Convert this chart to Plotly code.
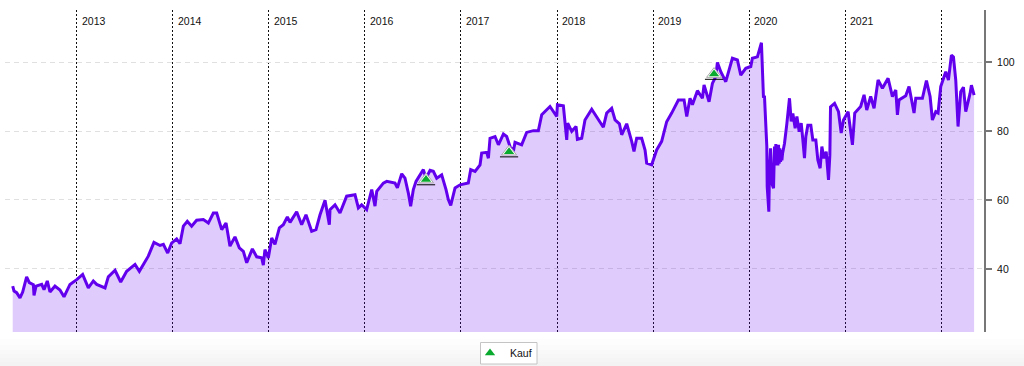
import plotly.graph_objects as go

years = [2013, 2014, 2015, 2016, 2017, 2018, 2019, 2020, 2021, 2022]
year_labels = ["2013", "2014", "2015", "2016", "2017", "2018", "2019", "2020", "2021"]
price_ticks = [40, 60, 80, 100]

time_2012_15 = [2012.336,2012.350,2012.377,2012.412,2012.440,2012.481,2012.509,2012.551,2012.558,2012.579,2012.638,2012.662,2012.696,2012.724,2012.776,2012.828,2012.870,2012.932,
2013.002,2013.064,2013.123,2013.175,2013.210,2013.297,2013.331,2013.401,2013.460,2013.522,2013.609,2013.654,2013.747,2013.806,2013.869,2013.904,2013.949,2013.990,
2014.042,2014.077,2014.112,2014.153,2014.198,2014.250,2014.320,2014.372,2014.424,2014.459,2014.511,2014.556,2014.597,2014.649,2014.694,2014.736,2014.771,2014.830,2014.875,2014.927,2014.944,2014.961,2014.996,
2015.031,2015.065,2015.111,2015.152,2015.194,2015.222,2015.291,2015.343,2015.388,2015.447,2015.492,2015.534,2015.586,2015.631,2015.638,2015.690,2015.742,2015.811,2015.898,2015.933,2015.967]
price_2012_15 = [35.0,33.6,33.1,31.6,33.3,37.7,36.0,35.4,32.3,35.0,35.5,34.0,36.5,33.3,35.0,33.9,31.9,35.5,
36.9,38.4,34.5,36.5,35.5,34.5,37.7,39.6,36.2,39.3,41.3,39.3,43.7,47.7,46.8,47.1,44.6,47.5,
48.7,47.3,52.4,53.8,52.4,54.1,54.3,53.3,56.2,56.2,51.4,53.3,46.6,49.3,46.1,45.1,41.8,45.8,43.5,43.2,41.1,45.6,43.2,
49.0,47.1,51.9,52.8,55.1,53.5,56.6,52.8,55.7,50.9,51.4,55.7,59.9,52.8,57.2,58.6,56.2,61.1,61.5,57.7,58.6]

time_2016_19 = [2016.019,2016.072,2016.106,2016.124,2016.193,2016.228,2016.314,2016.339,2016.384,2016.418,2016.453,2016.477,2016.505,2016.533,2016.609,2016.637,2016.679,2016.713,2016.748,2016.800,2016.845,2016.869,2016.894,2016.939,2016.991,
2017.077,2017.102,2017.147,2017.199,2017.216,2017.268,2017.286,2017.303,2017.355,2017.390,2017.442,2017.476,2017.511,2017.546,2017.563,2017.632,2017.684,2017.754,2017.806,2017.841,2017.927,2017.997,
2018.004,2018.066,2018.101,2018.111,2018.153,2018.198,2018.212,2018.257,2018.291,2018.361,2018.413,2018.482,2018.517,2018.569,2018.604,2018.649,2018.673,2018.725,2018.777,2018.801,2018.829,2018.881,2018.916,2018.933,2018.985,
2019.037,2019.089,2019.141,2019.193,2019.263,2019.322,2019.350,2019.384,2019.409,2019.461,2019.513,2019.530,2019.582,2019.617,2019.652,2019.669,2019.704,2019.756,2019.808,2019.825,2019.877,2019.912,2019.964]
price_2016_19 = [57.2,63.0,58.2,62.5,64.9,65.4,64.9,63.5,67.6,66.3,62.0,58.2,63.0,65.4,68.8,66.3,68.6,68.3,66.3,67.3,63.0,60.1,58.4,63.5,64.4,
64.9,68.8,68.3,70.2,73.6,73.8,72.1,77.9,78.4,76.0,79.1,78.4,75.5,74.1,76.7,76.0,79.6,80.1,80.1,84.7,87.1,84.2,
87.6,87.3,77.4,82.3,79.9,81.3,77.6,77.9,83.2,86.3,84.2,81.1,85.2,86.6,83.2,82.1,78.9,82.1,77.0,74.1,77.9,77.9,74.5,70.7,70.2,
74.5,77.0,82.7,85.2,89.0,89.0,84.2,89.5,87.6,91.7,89.5,93.4,88.5,93.8,95.8,99.9,97.2,94.3,99.1,101.1,100.6,96.2,98.2]

time_2020_22 = [2020.016,2020.033,2020.085,2020.127,2020.141,2020.148,2020.159,2020.173,2020.183,2020.187,2020.204,2020.211,2020.222,2020.235,2020.253,2020.263,2020.270,2020.277,2020.284,2020.291,2020.298,2020.305,2020.312,2020.319,2020.326,2020.333,2020.340,2020.347,2020.367,2020.392,2020.419,2020.437,2020.454,2020.478,2020.496,2020.520,2020.541,2020.558,2020.575,2020.589,2020.610,2020.641,2020.662,2020.693,2020.714,2020.738,2020.756,2020.777,2020.801,2020.825,2020.839,2020.846,2020.888,2020.929,2020.957,2020.981,
2021.029,2021.074,2021.098,2021.160,2021.195,2021.223,2021.264,2021.299,2021.341,2021.386,2021.445,2021.490,2021.525,2021.542,2021.559,2021.629,2021.663,2021.715,2021.733,2021.802,2021.844,2021.882,2021.906,2021.941,2021.965,2021.993,
2022.045,2022.073,2022.104,2022.125,2022.149,2022.173,2022.201,2022.229,2022.253,2022.298,2022.312,2022.340]
price_2020_22 = [98.7,101.1,101.5,105.6,94.8,90.0,89.9,83.2,75.5,63.9,56.6,68.7,75.0,64.8,63.4,75.5,70.3,76.2,70.0,75.5,70.0,76.0,70.5,75.0,71.0,74.5,71.5,73.5,76.4,82.2,89.5,82.8,85.1,80.8,84.2,79.8,82.3,77.4,72.1,78.4,81.7,81.7,77.4,77.4,71.6,69.2,75.5,72.1,74.0,65.8,73.0,87.0,88.0,85.6,79.4,83.2,
85.6,76.0,85.2,87.1,90.5,86.1,90.0,86.6,94.8,92.4,95.3,90.0,91.9,84.7,89.0,90.2,92.9,85.2,89.5,89.5,94.6,90.0,83.2,85.6,85.2,92.9,
97.2,94.8,102.0,101.5,94.8,81.3,91.4,92.7,85.6,90.9,93.3,90.4]

buy_time = [2016.637, 2017.501, 2019.634]
buy_price = [65.9, 74.0, 96.5]

time_all = time_2012_15 + time_2016_19 + time_2020_22
price_all = price_2012_15 + price_2016_19 + price_2020_22

LINE = "#6200ee"
fig = go.Figure()
fig.add_trace(go.Scatter(x=time_all, y=price_all, mode="lines", fill="tozeroy",
    fillcolor="rgba(98,0,238,0.2)", line=dict(color=LINE, width=3), showlegend=False, hoverinfo="skip"))
fig.add_trace(go.Scatter(x=buy_time, y=buy_price, mode="markers", showlegend=False, hoverinfo="skip",
    marker=dict(symbol="triangle-up", size=13, color="white", line=dict(color="#aaaaaa", width=1))))
fig.add_trace(go.Scatter(x=buy_time, y=[v - 1.5 for v in buy_price], mode="markers", showlegend=False, hoverinfo="skip",
    marker=dict(symbol="line-ew", size=13, line=dict(color="black", width=1))))
fig.add_trace(go.Scatter(x=buy_time, y=buy_price, mode="markers", name="Kauf",
    marker=dict(symbol="triangle-up", size=9, color="#0aaa2e")))

H = 356.0
W = 979.0
def py(px_from_top):
    return (366 - px_from_top) / H
def px(px_from_left):
    return (px_from_left - 5) / W

shapes = []
band_tops = [332, 339, 345, 350, 354, 358, 362]
band_cols = ["#ffffff", "#fdfdfd", "#fbfbfb", "#f9f9f9", "#f7f7f7", "#f5f5f5", "#f3f3f3"]
for i, (t, c) in enumerate(zip(band_tops, band_cols)):
    b = band_tops[i + 1] if i + 1 < len(band_tops) else 366
    shapes.append(dict(type="rect", xref="paper", yref="paper", x0=px(0), x1=px(1024), y0=py(b), y1=py(t),
                       fillcolor=c, line=dict(width=0), layer="below"))
shapes.append(dict(type="rect", xref="paper", yref="paper", x0=px(480.5), x1=px(537), y0=py(364), y1=py(342.5),
                   fillcolor="white", line=dict(color="#c4c4c4", width=1), layer="below"))

annotations = [dict(x=y, y=py(21), xref="x", yref="paper", text=l, showarrow=False, xanchor="left",
                    yanchor="middle", xshift=3, font=dict(size=10.5, color="#111111"))
               for y, l in zip(years, year_labels)]

fig.update_layout(
    width=1024, height=366, margin=dict(l=5, r=40, t=10, b=0, autoexpand=False),
    paper_bgcolor="white", plot_bgcolor="white",
    font=dict(family="Liberation Sans, Arial, sans-serif", size=10.5, color="#111111"),
    shapes=shapes, annotations=annotations,
    legend=dict(x=px(470), y=py(338.5), xanchor="left", yanchor="top", bgcolor="rgba(0,0,0,0)",
                borderwidth=0, font=dict(size=10.5, color="#111111"), itemwidth=30),
    xaxis=dict(range=[2012.256, 2022.443], tickvals=years, showticklabels=False, ticks="",
               showgrid=True, gridcolor="#111111", gridwidth=1, griddash="2px,2px",
               zeroline=False, showline=False),
    yaxis=dict(domain=[py(332), 1], range=[21.7, 115.1], side="right", tickvals=price_ticks, ticks="outside", ticklen=6,
               tickwidth=1.5, tickcolor="#777777", showline=True, linecolor="#777777", linewidth=2,
               showgrid=True, gridcolor="#e0e0e0", gridwidth=1, griddash="5px,4px", zeroline=False,
               ticklabelstandoff=3, tickfont=dict(size=10.5, color="#111111")),
)
fig.write_html("out.html", config=dict(displayModeBar=False),
               post_script="document.body.style.margin='0';document.body.style.overflow='hidden';")
